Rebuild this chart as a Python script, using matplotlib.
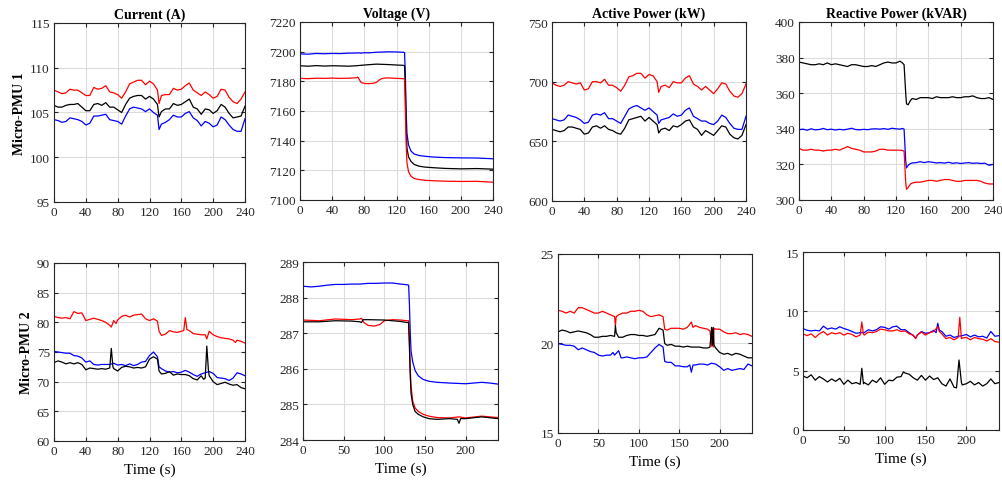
import matplotlib
matplotlib.use("Agg")
import matplotlib.pyplot as plt

plt.rcParams["font.family"] = ["Liberation Serif", "DejaVu Serif"]
plt.rcParams["mathtext.fontset"] = "stix"

RED, BLUE, BLACK = "#ff0000", "#0000ff", "#000000"

# ---------------- Micro-PMU 1 ----------------
t_cur1 = [0, 5, 10, 15, 20, 25, 30, 35, 40, 45, 50, 55, 60, 65, 70, 75, 80, 85, 90, 95,
          100, 105, 110, 115, 120, 125, 130, 132, 135, 140, 145, 150, 155, 160, 165, 170,
          175, 180, 185, 190, 195, 200, 205, 210, 215, 220, 225, 230, 235, 240]
cur1_red = [107.5, 107.3, 107.1, 107.2, 107.6, 107.5, 107.5, 107.2, 106.9, 106.9, 107.8, 107.6,
            107.7, 108.0, 107.3, 107.2, 107.0, 106.6, 107.3, 108.2, 108.4, 108.6, 108.6, 108.1,
            108.5, 108.2, 107.5, 106.0, 106.9, 107.0, 107.0, 107.7, 107.5, 107.6, 108.0, 108.3,
            107.5, 107.2, 106.9, 107.3, 107.0, 106.6, 106.8, 107.6, 107.5, 106.7, 106.2, 106.0,
            106.5, 107.3]
cur1_black = [105.8, 105.6, 105.6, 105.8, 105.9, 105.9, 106.0, 105.6, 105.2, 105.2, 105.9, 106.0,
              105.8, 106.1, 105.6, 105.6, 105.3, 105.0, 105.9, 106.6, 106.8, 106.9, 106.9, 106.5,
              106.8, 106.5, 105.9, 104.5, 105.1, 105.4, 105.4, 106.0, 105.8, 105.9, 106.2, 106.5,
              105.6, 105.4, 104.8, 105.4, 105.3, 104.9, 105.2, 105.9, 105.6, 104.9, 104.4, 104.5,
              104.6, 105.7]
cur1_blue = [104.2, 104.1, 103.9, 104.0, 104.4, 104.3, 104.2, 104.0, 103.6, 103.8, 104.6, 104.6,
             104.7, 104.8, 104.2, 104.1, 104.0, 103.7, 104.6, 105.4, 105.6, 105.5, 105.4, 105.1,
             105.4, 105.0, 104.7, 103.1, 103.7, 103.9, 104.2, 104.7, 104.5, 104.5, 104.9, 105.1,
             104.4, 104.1, 103.5, 104.0, 103.8, 103.4, 103.6, 104.5, 104.2, 103.6, 103.1, 102.9,
             102.9, 104.3]

t_volt1 = [0, 10, 20, 30, 40, 50, 60, 70, 72, 76, 80, 85, 90, 95, 100, 105, 110, 120, 128,
           130, 131, 132, 133, 135, 138, 142, 148, 155, 165, 180, 200, 220, 240]
volt1_blue = [7198.5, 7198.3, 7198.8, 7198.6, 7198.8, 7198.7, 7199.0, 7199.1, 7199.2, 7199.0,
              7199.3, 7199.2, 7199.4, 7199.6, 7199.7, 7199.8, 7199.9, 7199.8, 7199.6,
              7199.4, 7185.0, 7160.0, 7145.0, 7137.0, 7133.0, 7131.0, 7130.0, 7129.5, 7129.0,
              7128.6, 7128.4, 7128.3, 7127.8]
volt1_black = [7190.5, 7190.2, 7190.6, 7190.3, 7190.5, 7190.4, 7190.2, 7190.5, 7190.6, 7190.8,
               7191.0, 7191.2, 7191.4, 7191.6, 7191.5, 7191.4, 7191.3, 7191.0, 7190.8,
               7190.6, 7175.0, 7150.0, 7135.0, 7129.0, 7126.0, 7124.0, 7122.8, 7122.2, 7121.8,
               7121.3, 7121.0, 7121.2, 7120.8]
volt1_red = [7182.0, 7181.8, 7182.1, 7182.0, 7182.2, 7182.0, 7182.1, 7182.4, 7182.8, 7179.2,
             7178.6, 7178.4, 7178.6, 7179.3, 7181.5, 7182.2, 7182.3, 7182.0, 7181.8,
             7181.6, 7160.0, 7138.0, 7125.0, 7119.0, 7116.0, 7114.5, 7113.8, 7113.3, 7113.0,
             7112.7, 7112.5, 7112.6, 7112.0]

t_act1 = t_cur1
act1_red = [699, 697, 696, 697, 700, 699, 698, 699, 693, 694, 700, 700, 699, 702, 697, 697, 695,
            692, 697, 704, 705, 707, 707, 703, 706, 705, 700, 691, 696, 697, 695, 700, 699, 699,
            703, 705, 698, 696, 693, 696, 693, 690, 694, 699, 698, 692, 688, 687, 690, 698]
act1_blue = [669, 668, 667, 668, 672, 671, 670, 668, 665, 666, 672, 673, 672, 674, 669, 669, 667,
             665, 671, 677, 679, 680, 678, 676, 678, 675, 672, 665, 668, 669, 670, 673, 671, 672,
             676, 678, 671, 669, 667, 667, 665, 664, 667, 672, 670, 665, 661, 660, 660, 671]
act1_black = [660, 659, 658, 659, 662, 662, 661, 660, 656, 657, 662, 663, 661, 663, 660, 659, 657,
              656, 661, 668, 669, 670, 671, 667, 670, 667, 664, 657, 660, 661, 659, 663, 662, 664,
              667, 668, 662, 660, 655, 659, 657, 655, 659, 663, 662, 656, 653, 652, 655, 664]

t_react1 = [0, 5, 10, 15, 20, 25, 30, 35, 40, 45, 50, 55, 60, 65, 70, 75, 80, 85, 90, 95, 100,
            105, 110, 115, 120, 125, 128, 130, 132, 133, 135, 138, 140, 145, 150, 155, 160, 165,
            170, 175, 180, 185, 190, 195, 200, 205, 210, 215, 220, 225, 230, 235, 240]
react1_black = [377.5, 377.0, 376.5, 376.0, 376.0, 376.5, 376.0, 377.0, 376.0, 376.5, 376.0,
                375.5, 375.0, 376.0, 376.0, 375.5, 375.0, 375.0, 375.5, 375.0, 376.0, 377.0,
                377.5, 377.0, 377.0, 378.0, 377.0, 376.0, 360.0, 354.0, 353.5, 356.0, 357.0,
                356.5, 357.5, 357.5, 357.5, 357.0, 358.0, 357.5, 357.5, 357.5, 358.0, 357.5,
                357.5, 358.0, 358.0, 358.5, 357.5, 357.0, 357.0, 357.5, 356.5]
react1_blue = [339.5, 339.8, 339.2, 340.0, 339.4, 339.6, 340.2, 339.5, 339.8, 339.3, 339.7,
               339.4, 339.8, 340.3, 339.6, 339.4, 339.7, 339.5, 339.9, 340.0, 339.8, 340.1,
               339.7, 340.3, 340.0, 339.8, 340.2, 339.8, 322.0, 318.0, 319.5, 320.5, 320.8,
               321.0, 321.5, 321.0, 321.5, 321.2, 320.8, 321.0, 320.7, 321.2, 320.6, 320.9,
               320.5, 320.8, 321.0, 320.6, 320.8, 320.5, 320.7, 319.5, 320.0]
react1_red = [329.0, 328.0, 328.0, 328.5, 328.0, 328.0, 327.5, 328.0, 328.0, 328.5, 328.0,
              329.0, 330.0, 329.0, 328.5, 328.0, 327.0, 327.0, 327.0, 327.5, 328.5, 328.5,
              328.0, 328.0, 328.0, 328.0, 327.8, 327.5, 310.0, 306.0, 307.0, 309.0, 309.5,
              310.0, 310.0, 310.5, 311.0, 311.0, 310.5, 311.0, 311.5, 311.5, 311.0, 310.5,
              310.5, 311.0, 311.0, 311.0, 311.0, 310.5, 309.5, 309.0, 309.0]

# ---------------- Micro-PMU 2 ----------------
cur2_red = [(0, 81.0), (5, 80.8), (10, 80.7), (15, 80.8), (20, 80.6), (25, 81.8), (30, 81.5),
            (35, 81.6), (40, 80.3), (45, 80.5), (50, 80.7), (55, 80.5), (60, 80.3), (65, 80.0),
            (70, 79.5), (72, 79.2), (75, 80.3), (78, 79.8), (80, 80.4), (85, 81.0), (90, 81.2),
            (95, 80.9), (100, 81.2), (105, 81.3), (110, 81.4), (115, 80.6), (120, 80.3),
            (125, 80.6), (130, 80.2), (132, 78.5), (135, 77.8), (140, 78.0), (145, 78.6),
            (150, 78.4), (155, 78.3), (160, 78.5), (163, 78.6), (165, 80.8), (167, 78.8),
            (170, 78.6), (175, 78.1), (180, 78.0), (185, 77.9), (190, 77.9), (192, 77.2),
            (195, 78.5), (200, 77.9), (205, 77.6), (210, 77.4), (215, 77.3), (220, 77.2),
            (225, 77.0), (228, 76.6), (230, 77.0), (235, 76.8), (240, 76.5)]
cur2_blue = [(0, 75.1), (5, 75.0), (10, 74.9), (15, 74.8), (20, 74.8), (25, 74.4), (30, 74.3),
             (35, 74.0), (40, 73.3), (45, 73.5), (50, 72.9), (55, 72.8), (60, 72.9), (65, 72.9),
             (70, 72.9), (75, 73.1), (80, 72.8), (85, 72.9), (90, 72.7), (95, 73.0), (100, 72.7),
             (105, 72.9), (110, 73.3), (115, 73.4), (120, 74.4), (125, 75.0), (130, 74.2),
             (132, 72.5), (135, 72.2), (140, 71.8), (145, 71.6), (150, 71.7), (155, 71.5),
             (160, 71.6), (165, 71.9), (170, 71.6), (175, 71.2), (180, 70.9), (185, 71.3),
             (190, 71.5), (195, 71.7), (200, 71.4), (205, 70.7), (210, 70.6), (215, 70.5),
             (220, 70.2), (225, 70.6), (230, 71.5), (235, 71.3), (240, 71.0)]
cur2_black = [(0, 73.2), (5, 73.5), (10, 73.3), (15, 73.0), (20, 73.2), (25, 73.0), (30, 73.2),
              (35, 72.9), (40, 72.0), (45, 72.3), (50, 72.2), (55, 72.1), (60, 72.2), (65, 72.1),
              (70, 72.3), (72, 75.6), (74, 72.5), (75, 72.2), (80, 71.8), (85, 72.4), (90, 72.6),
              (95, 72.5), (100, 72.3), (105, 72.4), (110, 72.3), (115, 72.5), (120, 73.8),
              (125, 74.2), (130, 73.8), (132, 71.8), (135, 71.3), (140, 71.4), (145, 71.7),
              (150, 71.1), (155, 71.3), (160, 71.2), (165, 71.2), (170, 71.0), (175, 70.5),
              (180, 70.3), (185, 71.0), (188, 70.4), (190, 70.6), (192, 76.0), (194, 72.0),
              (195, 71.0), (200, 70.0), (205, 69.5), (210, 69.7), (215, 69.9), (220, 69.6),
              (225, 69.4), (230, 69.5), (235, 69.0), (240, 68.8)]

volt2_blue = [(0, 288.32), (10, 288.30), (20, 288.32), (30, 288.35), (40, 288.37), (50, 288.37),
              (60, 288.38), (70, 288.38), (80, 288.40), (90, 288.40), (100, 288.41),
              (110, 288.41), (120, 288.38), (128, 288.36), (130, 288.35), (131, 287.8),
              (132, 287.0), (133, 286.5), (135, 286.2), (138, 285.95), (142, 285.8),
              (148, 285.7), (155, 285.65), (165, 285.62), (180, 285.6), (200, 285.58),
              (220, 285.62), (230, 285.6), (240, 285.57)]
volt2_red = [(0, 287.37), (20, 287.35), (40, 287.40), (60, 287.38), (70, 287.40), (72, 287.42),
             (75, 287.30), (80, 287.22), (88, 287.20), (95, 287.25), (100, 287.35), (110, 287.38),
             (120, 287.37), (128, 287.35), (130, 287.35), (131, 286.8), (132, 286.0),
             (133, 285.5), (135, 285.1), (138, 284.9), (142, 284.8), (148, 284.72),
             (155, 284.67), (165, 284.63), (180, 284.62), (192, 284.65), (200, 284.62),
             (220, 284.67), (240, 284.63)]
volt2_black = [(0, 287.32), (20, 287.32), (40, 287.35), (60, 287.34), (70, 287.32), (72, 287.30),
               (74, 287.38), (80, 287.38), (100, 287.37), (120, 287.33), (128, 287.30),
               (130, 287.30), (131, 286.6), (132, 285.8), (133, 285.3), (135, 285.0),
               (138, 284.8), (142, 284.72), (148, 284.65), (155, 284.6), (165, 284.58),
               (180, 284.6), (190, 284.58), (192, 284.47), (194, 284.6), (200, 284.6),
               (220, 284.65), (240, 284.6)]

act2_red = [(0, 21.85), (5, 21.8), (10, 21.7), (15, 21.8), (20, 21.7), (25, 22.0), (30, 22.0),
            (35, 21.9), (40, 21.8), (45, 21.7), (50, 21.7), (55, 21.8), (60, 21.7), (65, 21.6),
            (70, 21.5), (71, 21.0), (72, 21.5), (75, 21.6), (80, 21.7), (85, 21.7), (90, 21.8),
            (95, 21.8), (100, 21.85), (105, 21.8), (110, 21.6), (115, 21.5), (120, 21.55),
            (125, 21.6), (130, 21.5), (132, 20.8), (135, 20.75), (140, 20.85), (145, 20.85),
            (150, 20.85), (155, 20.8), (160, 20.9), (165, 21.2), (167, 20.9), (170, 21.0),
            (175, 20.9), (180, 20.85), (185, 20.8), (188, 20.7), (190, 19.85), (191, 20.8),
            (192, 19.8), (193, 20.85), (195, 20.8), (200, 20.8), (205, 20.65), (210, 20.55),
            (215, 20.55), (220, 20.6), (225, 20.5), (230, 20.55), (235, 20.5), (240, 20.4)]
act2_black = [(0, 20.65), (5, 20.75), (10, 20.7), (15, 20.6), (20, 20.65), (25, 20.7),
              (30, 20.65), (35, 20.6), (40, 20.5), (45, 20.35), (50, 20.35), (55, 20.4),
              (60, 20.4), (65, 20.45), (70, 20.4), (71, 21.0), (72, 20.6), (75, 20.35),
              (80, 20.35), (85, 20.45), (90, 20.5), (95, 20.5), (100, 20.45), (105, 20.45),
              (110, 20.4), (115, 20.45), (120, 20.5), (125, 20.85), (130, 20.75), (132, 20.0),
              (135, 19.9), (140, 19.95), (145, 19.85), (150, 19.85), (155, 19.8), (160, 19.85),
              (165, 19.8), (170, 19.8), (175, 19.8), (180, 19.75), (185, 19.75), (188, 19.8),
              (190, 20.9), (191, 19.9), (192, 20.9), (193, 19.9), (195, 19.75), (200, 19.5),
              (205, 19.4), (210, 19.45), (215, 19.35), (220, 19.45), (225, 19.4), (230, 19.3),
              (235, 19.2), (240, 19.2)]
act2_blue = [(0, 20.0), (5, 19.95), (10, 19.9), (15, 19.9), (20, 19.85), (25, 19.65), (30, 19.75),
             (35, 19.65), (40, 19.55), (45, 19.5), (50, 19.35), (55, 19.3), (60, 19.35),
             (65, 19.35), (68, 19.5), (70, 19.35), (75, 19.6), (78, 19.2), (80, 19.2), (85, 19.25),
             (90, 19.2), (95, 19.15), (100, 19.2), (105, 19.2), (110, 19.25), (115, 19.5),
             (120, 19.75), (125, 19.95), (130, 19.8), (132, 19.0), (135, 18.95), (140, 18.95),
             (145, 18.75), (150, 18.75), (155, 18.7), (160, 18.7), (163, 18.8), (165, 18.4),
             (167, 18.8), (170, 18.8), (175, 18.85), (180, 18.85), (185, 18.8), (190, 18.9),
             (195, 18.85), (200, 18.7), (205, 18.5), (210, 18.6), (215, 18.5), (220, 18.55),
             (225, 18.6), (230, 18.55), (235, 18.85), (240, 18.75)]

react2_blue = [(0, 8.55), (5, 8.4), (10, 8.35), (15, 8.4), (20, 8.35), (25, 8.75), (30, 8.5),
               (35, 8.6), (40, 8.5), (45, 8.7), (50, 8.55), (55, 8.45), (60, 8.3), (65, 8.15),
               (70, 8.2), (75, 8.2), (80, 8.45), (85, 8.35), (90, 8.45), (95, 8.7), (100, 8.65),
               (105, 8.5), (110, 8.7), (115, 8.75), (120, 8.45), (125, 8.45), (130, 8.2),
               (135, 7.95), (138, 7.75), (140, 8.0), (145, 8.3), (150, 8.15), (155, 8.2),
               (160, 8.4), (163, 8.2), (165, 9.0), (167, 8.4), (170, 8.3), (175, 7.9), (180, 8.0),
               (185, 7.8), (190, 7.9), (195, 7.95), (200, 8.05), (205, 7.85), (210, 8.0),
               (215, 7.85), (220, 7.9), (225, 7.75), (230, 8.3), (235, 7.9), (240, 7.95)]
react2_red = [(0, 8.1), (5, 7.95), (10, 8.1), (15, 7.8), (20, 8.1), (25, 8.3), (30, 8.0),
              (35, 8.2), (40, 8.1), (45, 8.2), (50, 8.0), (55, 8.15), (60, 8.05), (65, 7.85),
              (70, 8.0), (72, 9.1), (74, 8.1), (75, 8.0), (80, 8.25), (85, 8.2), (90, 8.3),
              (95, 8.5), (100, 8.45), (105, 8.35), (110, 8.35), (115, 8.45), (120, 8.3),
              (125, 8.35), (130, 8.1), (135, 8.0), (138, 7.7), (140, 8.0), (145, 8.25),
              (150, 8.0), (155, 8.2), (160, 8.3), (165, 8.7), (167, 8.3), (170, 8.1), (175, 7.7),
              (180, 7.8), (185, 7.6), (190, 7.8), (192, 9.5), (194, 7.7), (195, 7.75), (200, 7.8),
              (205, 7.6), (210, 7.8), (215, 7.7), (220, 7.65), (225, 7.5), (230, 7.7),
              (235, 7.45), (240, 7.4)]
react2_black = [(0, 4.55), (5, 4.4), (10, 4.65), (15, 4.2), (20, 4.5), (25, 4.3), (30, 4.05),
                (35, 4.3), (40, 4.1), (45, 4.35), (50, 3.85), (55, 4.2), (60, 3.9), (65, 4.0),
                (70, 3.85), (72, 5.2), (74, 3.9), (75, 4.0), (80, 3.8), (85, 4.2), (90, 4.0),
                (95, 4.4), (100, 3.85), (105, 4.2), (110, 4.15), (115, 4.45), (120, 4.5),
                (123, 4.9), (125, 4.8), (130, 4.7), (135, 4.4), (140, 4.2), (145, 4.6),
                (150, 4.2), (155, 4.55), (160, 4.25), (165, 4.4), (170, 3.9), (175, 3.7),
                (180, 4.3), (185, 3.6), (188, 3.55), (191, 5.9), (194, 4.0), (195, 3.8),
                (200, 3.9), (205, 4.1), (210, 3.8), (215, 4.0), (220, 3.7), (225, 3.9),
                (230, 4.3), (235, 3.9), (240, 4.0)]

titles = ["Current (A)", "Voltage (V)", "Active Power (kW)", "Reactive Power (kVAR)"]
row_labels = ["Micro-PMU 1", "Micro-PMU 2"]
xticks_40 = [0, 40, 80, 120, 160, 200, 240]
xticks_50 = [0, 50, 100, 150, 200]

W, H = 1002, 481
fig = plt.figure(figsize=(W / 100, H / 100), dpi=100)


def box(l, t, r, b):
    return [l / W, 1 - b / H, (r - l) / W, (b - t) / H]


def style(ax, ylim, yticks, xticks):
    ax.set_xlim(0, 240)
    ax.set_ylim(*ylim)
    ax.set_yticks(yticks)
    ax.set_xticks(xticks)
    ax.grid(True, color="#dcdcdc", linewidth=0.8)
    ax.set_axisbelow(True)
    ax.tick_params(direction="in", length=3, width=0.8, top=True, right=True,
                   labelsize=9.5, colors="#262626", pad=3)
    for s in ax.spines.values():
        s.set_color("#262626")
        s.set_linewidth(0.8)


def plot_series(ax, t, v, color):
    ax.plot(t, v, color=color, linewidth=0.9)


def plot_pairs(ax, pairs, color):
    ax.plot([p[0] for p in pairs], [p[1] for p in pairs], color=color, linewidth=0.9)


# top row
a1 = fig.add_axes(box(54, 24, 245, 203))
plot_series(a1, t_cur1, cur1_red, RED)
plot_series(a1, t_cur1, cur1_black, BLACK)
plot_series(a1, t_cur1, cur1_blue, BLUE)
style(a1, (95, 115), [95, 100, 105, 110, 115], xticks_40)

a2 = fig.add_axes(box(300, 23, 493, 201))
plot_series(a2, t_volt1, volt1_blue, BLUE)
plot_series(a2, t_volt1, volt1_black, BLACK)
plot_series(a2, t_volt1, volt1_red, RED)
style(a2, (7100, 7220), list(range(7100, 7221, 20)), xticks_40)

a3 = fig.add_axes(box(552, 23, 746, 202))
plot_series(a3, t_act1, act1_red, RED)
plot_series(a3, t_act1, act1_blue, BLUE)
plot_series(a3, t_act1, act1_black, BLACK)
style(a3, (600, 750), [600, 650, 700, 750], xticks_40)

a4 = fig.add_axes(box(799, 23, 993, 201))
plot_series(a4, t_react1, react1_black, BLACK)
plot_series(a4, t_react1, react1_blue, BLUE)
plot_series(a4, t_react1, react1_red, RED)
style(a4, (300, 400), list(range(300, 401, 20)), xticks_40)

# bottom row
b1 = fig.add_axes(box(54, 264, 245, 442))
plot_pairs(b1, cur2_red, RED)
plot_pairs(b1, cur2_blue, BLUE)
plot_pairs(b1, cur2_black, BLACK)
style(b1, (60, 90), list(range(60, 91, 5)), xticks_40)

b2 = fig.add_axes(box(303, 263, 498, 441))
plot_pairs(b2, volt2_blue, BLUE)
plot_pairs(b2, volt2_red, RED)
plot_pairs(b2, volt2_black, BLACK)
style(b2, (284, 289), list(range(284, 290)), xticks_50)

b3 = fig.add_axes(box(558, 255, 752, 434))
plot_pairs(b3, act2_red, RED)
plot_pairs(b3, act2_black, BLACK)
plot_pairs(b3, act2_blue, BLUE)
style(b3, (15, 25), [15, 20, 25], xticks_50)

b4 = fig.add_axes(box(803, 253, 999, 431))
plot_pairs(b4, react2_blue, BLUE)
plot_pairs(b4, react2_red, RED)
plot_pairs(b4, react2_black, BLACK)
style(b4, (0, 15), [0, 5, 10, 15], xticks_50)

for ax, title in zip([a1, a2, a3, a4], titles):
    ax.set_title(title, fontsize=10, fontweight="bold", pad=4)

for ax in [b1, b2, b3, b4]:
    ax.set_xlabel("Time (s)", fontsize=11, labelpad=4)

fig.text(20 / W, 1 - 114 / H, row_labels[0], rotation=90, ha="center", va="center",
         fontsize=10, fontweight="bold")
fig.text(27 / W, 1 - 353 / H, row_labels[1], rotation=90, ha="center", va="center",
         fontsize=10, fontweight="bold")

fig.savefig("out.png", dpi=100)
